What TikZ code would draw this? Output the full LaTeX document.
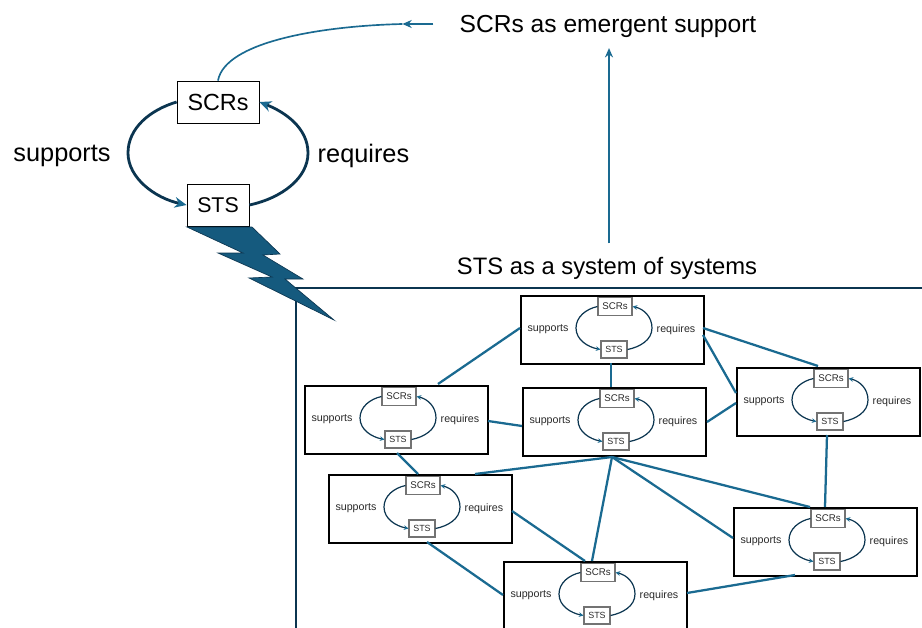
\documentclass[tikz,border=0pt]{standalone}
\usepackage{fontspec}
\setmainfont{Liberation Sans}
\usetikzlibrary{calc,arrows.meta}
\definecolor{navy}{HTML}{0B3550}
\definecolor{teal}{HTML}{1A6A91}
\definecolor{bolt}{HTML}{155A7E}
\definecolor{smalltext}{HTML}{2A2A2A}
\tikzset{
  x=0.75pt,y=-0.75pt,
  bigtext/.style={font=\fontsize{19}{22}\selectfont,text=black,inner sep=0pt},
  titletext/.style={font=\fontsize{18.45}{22}\selectfont,text=black,inner sep=0pt},
  sostext/.style={font=\fontsize{17.85}{22}\selectfont,text=black,inner sep=0pt},
  bigbox/.style={draw=black,line width=0.6pt,fill=white,inner sep=0pt,font=\fontsize{17.5}{20}\selectfont},
  tiploop/.style={draw=navy,line width=2.1pt,-{Stealth[length=9pt,width=8pt,color=teal]}},
  unitbox/.style={draw=black,line width=1.2pt,fill=white,minimum width=137.25pt,minimum height=51pt,inner sep=0pt,anchor=north west},
  smalllabel/.style={font=\fontsize{8}{10}\selectfont,text=smalltext,inner sep=0pt},
  smallbox/.style={draw=black!55,line width=0.8pt,fill=white,inner sep=0pt,font=\fontsize{7.3}{9}\selectfont,text=smalltext},
  smalltip/.style={draw=navy,line width=0.9pt,-{Stealth[length=3.5pt,width=3.5pt,color=teal]}},
  link/.style={draw=teal,line width=1.7pt},
  thinarrow/.style={draw=teal,line width=1.25pt},
  frameline/.style={draw=navy,line width=1.4pt}
}
\newcommand{\loopunit}[3]{%
  \node[unitbox] (#1box) at (#2,#3) {};
  \begin{scope}[shift={(#2,#3)}]
    \node[smallbox,minimum width=25.5pt,minimum height=13.5pt] (#1scr) at (95,11.5) {SCRs};
    \node[smallbox,minimum width=19.5pt,minimum height=12.75pt,font=\fontsize{6.7}{9}\selectfont] (#1sts) at (94,54.5) {STS};
    \node[smalllabel] (#1sup) at (28,34.5) {supports};
    \node[smalllabel] (#1req) at (156,34.5) {requires};
    \draw[smalltip] (#1scr.west) .. controls (66,14) and (56,22) .. (56,33) .. controls (56,45) and (68,52) .. (#1sts.west);
    \draw[smalltip] (#1sts.east) .. controls (120,52) and (132,45) .. (132,33) .. controls (132,22) and (124,14) .. (#1scr.east);
  \end{scope}
}
\begin{document}
\begin{tikzpicture}
\useasboundingbox (0,0) rectangle (922,628);
% frame
\coordinate (framecorner) at (296,288);
\coordinate (frameright) at (922,288);
\coordinate (framebottom) at (296,628);
\draw[frameline] (frameright) -- (framecorner) -- (framebottom);
% titles
\node[titletext] (emergent) at (608,26) {SCRs as emergent support};
\node[sostext] (sos) at (607,268) {STS as a system of systems};
\draw[thinarrow,-{Stealth[length=7pt,width=6pt]}] ([yshift=10pt]sos.north -| 609,0) -- ([yshift=-8pt]emergent.south -| 609,0);
% main loop
\node[bigbox,minimum width=61.5pt,minimum height=31.5pt] (scr) at (218,102) {SCRs};
\node[bigbox,minimum width=46.5pt,minimum height=31.5pt,font=\fontsize{16}{20}\selectfont] (sts) at (218,205) {STS};
\node[bigtext] (sup) at (62,156) {supports};
\node[bigtext] (req) at (363.5,156) {requires};
\draw[tiploop] (scr.west) .. controls (150,110) and (128,128) .. (128,153) .. controls (128,178) and (155,198) .. (sts.west);
\draw[tiploop] (sts.east) .. controls (282,198) and (308,178) .. (308,153) .. controls (308,128) and (285,112) .. (scr.east);
% top curve
\coordinate (curvestart) at ($(emergent.west)+(-26,-2)$);
\coordinate (curvemid) at ($(emergent.west)+(-57,-2)$);
\draw[thinarrow,-{Stealth[length=7pt,width=6pt]}] (curvestart) -- (curvemid);
\draw[thinarrow] (curvemid) .. controls (320,26) and (225,42) .. (scr.north);
% lightning
\draw[draw=navy,line width=0.5pt,fill=bolt] (187,227) -- (252,227) -- (280,254) -- (263,255) -- (303,279) -- (285,279) -- (334,320) -- (249,278) -- (272,277) -- (218,253) -- (243,253) -- cycle;
% units
\loopunit{A}{520}{295}
\loopunit{B}{522}{387}
\loopunit{C}{736}{367}
\loopunit{D}{304}{385}
\loopunit{E}{328}{474}
\loopunit{F}{503}{561}
\loopunit{G}{733}{507}
% links
\coordinate (hub) at ($(Bbox.north west)+(90,70)$);
\draw[link] ($(Dbox.north west)+(134,-1)$) -- ($(Abox.north west)+(0,33)$);
\draw[link] ($(Abox.north west)+(91,68)$) -- ($(Bbox.north west)+(89,0)$);
\draw[link] ($(Abox.north west)+(183,33)$) -- ($(Cbox.north west)+(82,-1)$);
\draw[link] ($(Abox.north west)+(183,40)$) -- ($(Cbox.north west)+(0,26)$);
\draw[link] ($(Bbox.north west)+(185,35)$) -- ($(Cbox.north west)+(0,36)$);
\draw[link] ($(Dbox.north west)+(184,36)$) -- ($(Bbox.north west)+(0,39)$);
\draw[link] ($(Dbox.north west)+(93,68)$) -- ($(Ebox.north west)+(90,0)$);
\draw[link] (hub) -- ($(Ebox.north west)+(147,0)$);
\draw[link] (hub) -- ($(Fbox.north west)+(89,0)$);
\draw[link] (hub) -- ($(Gbox.north west)+(0,31)$);
\draw[link] (hub) -- ($(Gbox.north west)+(77,0)$);
\draw[link] ($(Ebox.north west)+(184,37)$) -- ($(Fbox.north west)+(82,0)$);
\draw[link] ($(Ebox.north west)+(99,68)$) -- ($(Fbox.north west)+(0,34)$);
\draw[link] ($(Fbox.north west)+(184,32)$) -- ($(Gbox.north west)+(62,68)$);
\draw[link] ($(Cbox.north west)+(91,68)$) -- ($(Gbox.north west)+(92,0)$);
\end{tikzpicture}
\end{document}
